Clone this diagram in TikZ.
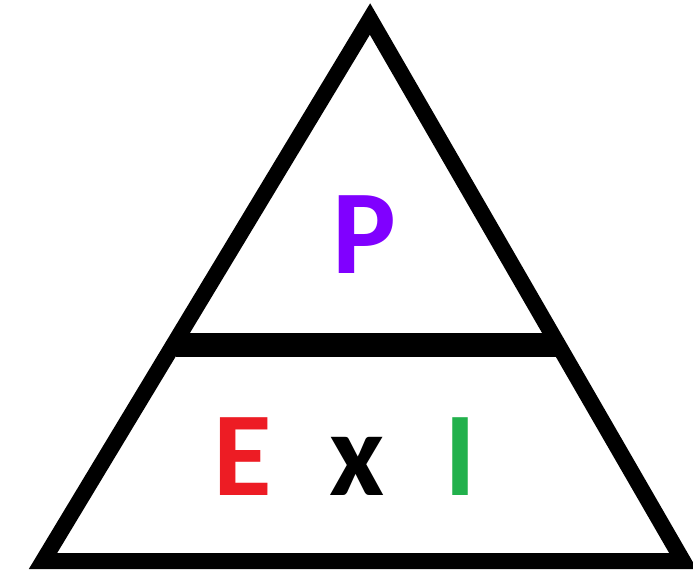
\documentclass[tikz,border=0pt]{standalone}
\usepackage{fontspec}
\setmainfont{Carlito}
\definecolor{pPurple}{RGB}{128,0,255}
\definecolor{eRed}{RGB}{237,28,36}
\definecolor{iGreen}{RGB}{34,177,76}
\begin{document}
\begin{tikzpicture}[x=1pt,y=1pt,
  edge/.style={line width=16pt,line join=miter,black},
  barline/.style={line width=24pt,black},
  letter/.style={anchor=base,inner sep=0pt,font=\fontsize{120}{120}\selectfont\bfseries}]
\useasboundingbox (0,0) rectangle (693,-583);
\coordinate (apex) at (370,-19);
\coordinate (bl) at (43,-561);
\coordinate (br) at (683,-561);
\coordinate (barL) at (176,-345);
\coordinate (barR) at (560,-345);
\draw[edge] (apex) -- (br) -- (bl) -- cycle;
\draw[barline] (barL) -- (barR);
\node[letter,text=pPurple] (p) at (364,-273) {P};
\node[letter,text=eRed] (e) at (243,-495) {E};
\node[letter,text=black] (x) at (357,-495) {x};
\node[letter,text=iGreen] (i) at (460,-495) {I};
\end{tikzpicture}
\end{document}
